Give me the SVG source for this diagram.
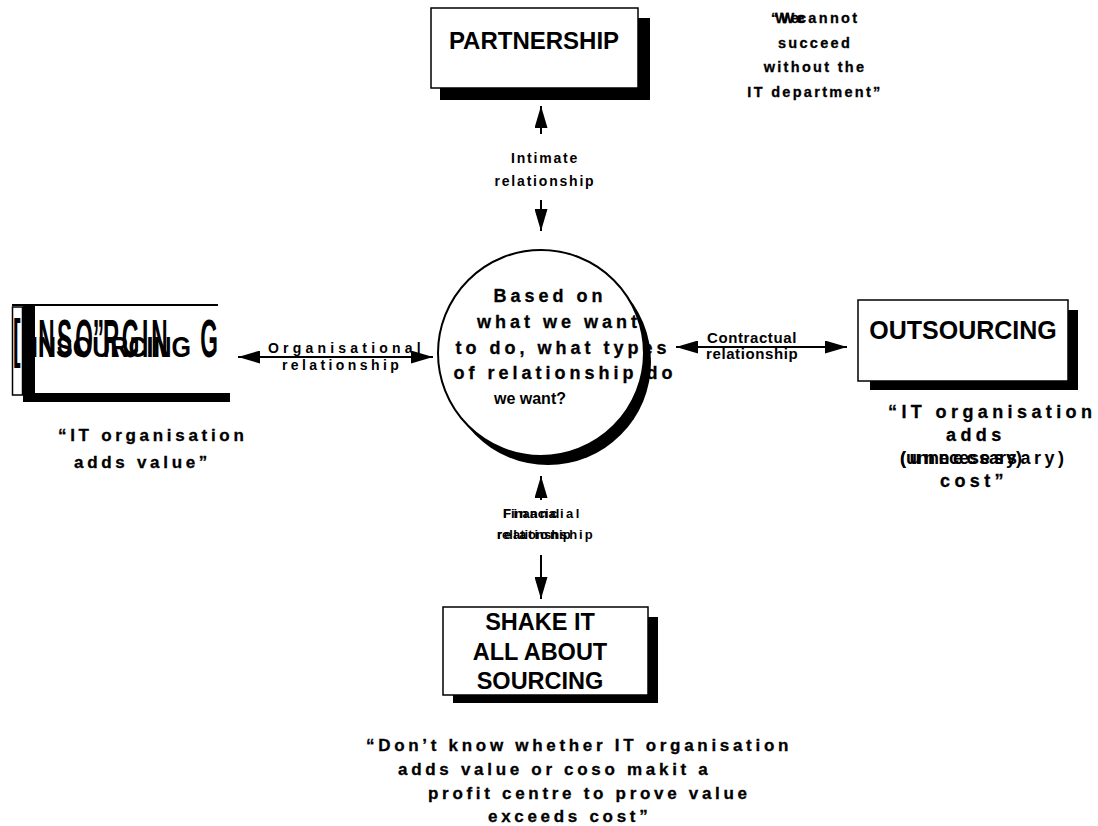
<svg xmlns="http://www.w3.org/2000/svg" width="1098" height="826" viewBox="0 0 1098 826">
<style>
text{font-family:"Liberation Sans",Arial,sans-serif;font-weight:bold;fill:#000}
.box{fill:#fff;stroke:#000;stroke-width:1.5}
.sh{fill:#000}
.lbl{font-size:24px;text-anchor:middle}
.q{font-size:17px;letter-spacing:3.7px;stroke:#000;stroke-width:0.3}
.rq{font-size:18px;letter-spacing:4.4px;stroke:#000;stroke-width:0.3}
.tq{font-size:14.5px;letter-spacing:2.3px;text-anchor:middle;stroke:#000;stroke-width:0.3}
.c{font-size:18px;letter-spacing:4px;text-anchor:middle;stroke:#000;stroke-width:0.3}
.rel{font-size:14px;letter-spacing:1.8px;text-anchor:middle}
.org{font-size:14px}
.con{font-size:15px;letter-spacing:0.6px}
.fin{font-size:13px}
.ln{stroke:#000;stroke-width:2;fill:none}
</style>
<defs>
<marker id="ah" viewBox="0 0 10 10" refX="10" refY="5" markerWidth="22" markerHeight="13" markerUnits="userSpaceOnUse" orient="auto-start-reverse" preserveAspectRatio="none">
<path d="M0,0 L10,5 L0,10 z" fill="#000"/>
</marker>
<mask id="cm">
<rect x="0" y="0" width="1098" height="826" fill="#fff"/>
<circle cx="541" cy="353" r="103" fill="#000"/>
</mask>
</defs>
<rect width="1098" height="826" fill="#fff"/>

<g id="connectors">
<line class="ln" x1="541" y1="134" x2="541" y2="106" marker-end="url(#ah)"/>
<line class="ln" x1="541" y1="200" x2="541" y2="231" marker-end="url(#ah)"/>
<line class="ln" x1="541" y1="500" x2="541" y2="476" marker-end="url(#ah)"/>
<line class="ln" x1="541" y1="555" x2="541" y2="599" marker-end="url(#ah)"/>
<line class="ln" x1="238" y1="357" x2="433" y2="357" marker-start="url(#ah)" marker-end="url(#ah)"/>
<line class="ln" x1="676" y1="347" x2="847" y2="347" marker-start="url(#ah)" marker-end="url(#ah)"/>
<text class="rel" x="545" y="163">Intimate</text>
<text class="rel" x="545" y="186">relationship</text>
<text class="org" x="268" y="353" style="letter-spacing:4.2px">Organisational</text>
<text class="org" x="282" y="370" style="letter-spacing:3.4px">relationship</text>
<text class="con" x="707" y="343">Contractual</text>
<text class="con" x="706" y="359">relationship</text>
<text class="fin" x="503" y="518">Financial</text>
<text class="fin" x="503" y="518" style="letter-spacing:2.5px">Financial</text>
<text class="fin" x="497" y="539">relationship</text>
<text class="fin" x="497" y="539" style="letter-spacing:2px">relationship</text>
</g>

<g id="partnership">
<rect class="sh" x="440" y="18" width="210" height="82"/>
<rect class="box" x="431" y="8" width="207" height="80"/>
<text class="lbl" x="534" y="49">PARTNERSHIP</text>
</g>

<g id="partnership-quote">
<text class="tq" x="771" y="23" style="text-anchor:start">“We</text>
<text class="tq" x="775" y="23" style="text-anchor:start">We</text>
<text class="tq" x="798" y="23" style="text-anchor:start">cannot</text>
<text class="tq" x="815" y="48">succeed</text>
<text class="tq" x="815" y="72">without the</text>
<text class="tq" x="815" y="97">IT department”</text>
</g>

<g id="centre">
<circle cx="541" cy="353" r="103" fill="#fff" stroke="#000" stroke-width="2"/>
<text class="c" x="550" y="302">Based on</text>
<text class="c" x="559" y="328">what we want</text>
<text class="c" x="563" y="354">to do, what types</text>
<text class="c" x="565" y="379">of relationship do</text>
<text x="530" y="404" style="font-size:16px;text-anchor:middle">we want?</text>
<circle cx="548" cy="362" r="103" fill="#000" mask="url(#cm)"/>
</g>

<g id="insourcing">
<line x1="12" y1="305" x2="218" y2="305" stroke="#000" stroke-width="2"/>
<rect x="12.5" y="307" width="10" height="88" fill="#fff" stroke="#000" stroke-width="1.5"/>
<text transform="translate(13,357) scale(0.42,1)" x="0 33 60 105 148 190 214 259 307 329 446" y="0" style="font-size:54px">[INSO”RGING</text>
<text x="31" y="357" textLength="160" lengthAdjust="spacingAndGlyphs" style="font-size:29px">INSOURCING</text>
<rect class="sh" x="23" y="306" width="12" height="96"/>
<rect class="sh" x="35" y="393" width="195" height="9"/>
</g>

<g id="insourcing-quote">
<text class="q" x="58" y="441">“IT organisation</text>
<text class="q" x="74" y="468">adds value”</text>
</g>

<g id="outsourcing">
<rect class="sh" x="870" y="310" width="208" height="80"/>
<rect class="box" x="858" y="300" width="210" height="81"/>
<text class="lbl" x="963" y="339" style="font-size:25px">OUTSOURCING</text>
</g>

<g id="outsourcing-quote">
<text class="rq" x="888" y="418">“IT organisation</text>
<text class="rq" x="946" y="441">adds</text>
<text x="900" y="464" style="font-size:18px">(unnecessary)</text>
<text x="900" y="464" style="font-size:18px;letter-spacing:3.5px">(unnecessary)</text>
<text class="rq" x="940" y="487">cost”</text>
</g>

<g id="shake">
<rect class="sh" x="453" y="617" width="205" height="86"/>
<rect class="box" x="443" y="607" width="205" height="88"/>
<text class="lbl" x="540" y="630" style="font-size:23.5px">SHAKE IT</text>
<text class="lbl" x="540" y="660" style="font-size:23.5px">ALL ABOUT</text>
<text class="lbl" x="540" y="689" style="font-size:23.5px">SOURCING</text>
</g>

<g id="shake-quote">
<text class="q" x="366" y="751">“Don’t know whether IT organisation</text>
<text class="q" x="398" y="775">adds value or coso makit a</text>
<text class="q" x="428" y="799">profit centre to prove value</text>
<text class="q" x="488" y="822">exceeds cost”</text>
</g>
</svg>
